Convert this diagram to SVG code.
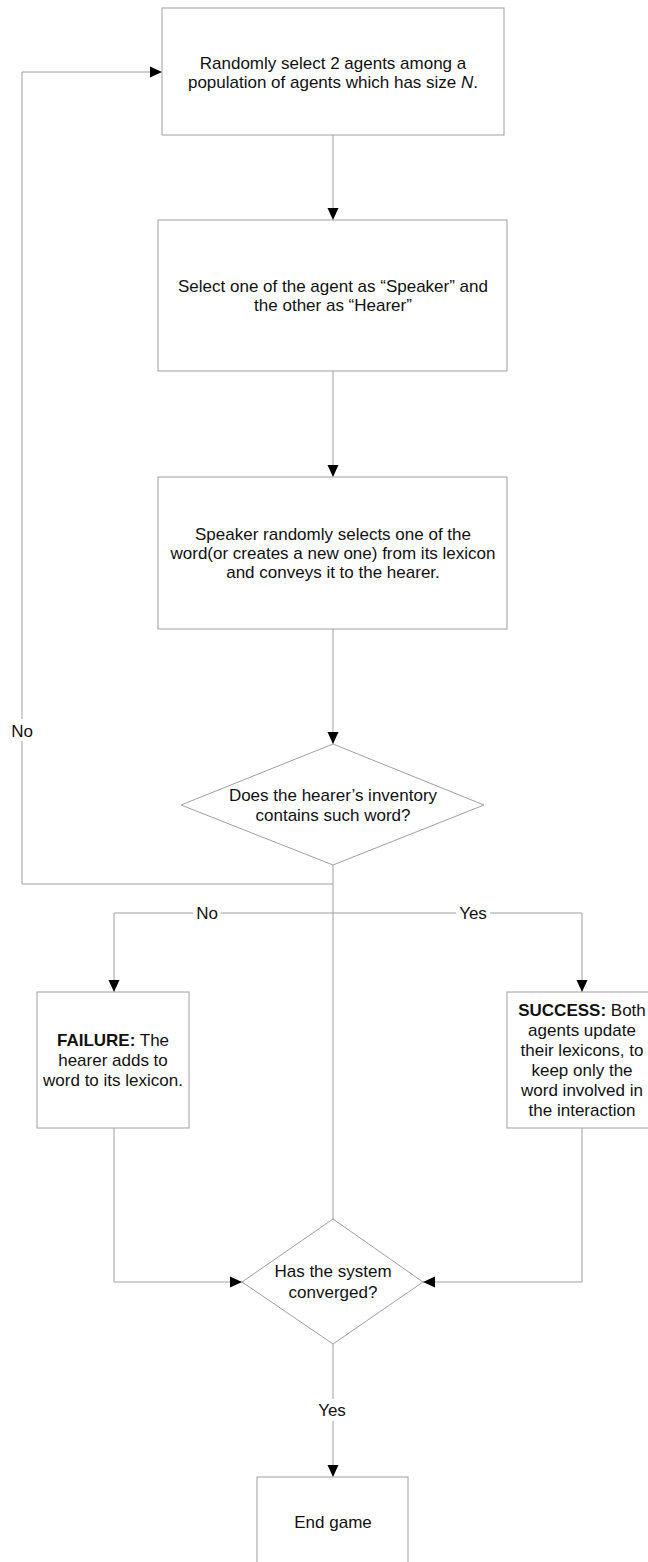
<svg xmlns="http://www.w3.org/2000/svg" width="648" height="1562" viewBox="0 0 648 1562">
<style>
.n{fill:#fff;stroke:#a0a0a0;stroke-width:1}
.c{fill:none;stroke:#a0a0a0;stroke-width:1}
text{font-family:"Liberation Sans",Arial,sans-serif;font-size:17px;fill:#111;text-anchor:middle}
.lbl{fill:#fff;stroke:none}
</style>
<defs>
<marker id="ah" markerUnits="userSpaceOnUse" markerWidth="13" markerHeight="13" viewBox="0 0 13 13" refX="12" refY="6.5" orient="auto">
<path d="M0,1 L12,6.5 L0,12 Z" fill="#000"/>
</marker>
</defs>
<rect width="648" height="1562" fill="#fff"/>
<g id="connectors">
<line class="c" x1="333" y1="135" x2="333" y2="220" marker-end="url(#ah)"/>
<line class="c" x1="333" y1="371" x2="333" y2="477" marker-end="url(#ah)"/>
<line class="c" x1="333" y1="629" x2="333" y2="744" marker-end="url(#ah)"/>
<polyline class="c" points="333,865 333,884 22,884 22,72 162,72" marker-end="url(#ah)"/>
<line class="c" x1="333" y1="884" x2="333" y2="1219"/>
<polyline class="c" points="333,913 114,913 114,992" marker-end="url(#ah)"/>
<polyline class="c" points="333,913 582,913 582,992" marker-end="url(#ah)"/>
<polyline class="c" points="114,1128 114,1282 242,1282" marker-end="url(#ah)"/>
<polyline class="c" points="582,1128 582,1282 423,1282" marker-end="url(#ah)"/>
<line class="c" x1="333" y1="1344" x2="333" y2="1477" marker-end="url(#ah)"/>
<rect class="lbl" x="8" y="719" width="28" height="22"/>
<text x="22" y="737">No</text>
<rect class="lbl" x="193" y="903" width="28" height="20"/>
<text x="207" y="919">No</text>
<rect class="lbl" x="456" y="903" width="34" height="20"/>
<text x="473" y="919">Yes</text>
<rect class="lbl" x="315" y="1399" width="34" height="22"/>
<text x="332" y="1416">Yes</text>
</g>
<g id="n1">
<rect class="n" x="162" y="8" width="342" height="127"/>
<text x="333" y="69">Randomly select 2 agents among a</text>
<text x="333" y="88">population of agents which has size <tspan font-style="italic">N</tspan>.</text>
</g>
<g id="n2">
<rect class="n" x="158" y="220" width="349" height="151"/>
<text x="333" y="292">Select one of the agent as “Speaker” and</text>
<text x="333" y="311">the other as “Hearer”</text>
</g>
<g id="n3">
<rect class="n" x="158" y="477" width="349" height="152"/>
<text x="333" y="540">Speaker randomly selects one of the</text>
<text x="333" y="559">word(or creates a new one) from its lexicon</text>
<text x="333" y="578">and conveys it to the hearer.</text>
</g>
<g id="d1">
<polygon class="n" points="333,744 484,805 333,865 181,805"/>
<text x="333" y="801">Does the hearer’s inventory</text>
<text x="333" y="821">contains such word?</text>
</g>
<g id="fail">
<rect class="n" x="37" y="992" width="152" height="136"/>
<text x="113" y="1046"><tspan font-weight="bold">FAILURE:</tspan> The</text>
<text x="113" y="1066">hearer adds to</text>
<text x="113" y="1086">word to its lexicon.</text>
</g>
<g id="succ">
<rect class="n" x="507" y="992" width="152" height="136"/>
<text x="582" y="1016"><tspan font-weight="bold">SUCCESS:</tspan> Both</text>
<text x="582" y="1036">agents update</text>
<text x="582" y="1056">their lexicons, to</text>
<text x="582" y="1076">keep only the</text>
<text x="582" y="1096">word involved in</text>
<text x="582" y="1116">the interaction</text>
</g>
<g id="d2">
<polygon class="n" points="333,1219 423,1282 333,1344 242,1282"/>
<text x="333" y="1277">Has the system</text>
<text x="333" y="1298">converged?</text>
</g>
<g id="end">
<rect class="n" x="257" y="1477" width="151" height="100"/>
<text x="333" y="1528">End game</text>
</g>
</svg>
